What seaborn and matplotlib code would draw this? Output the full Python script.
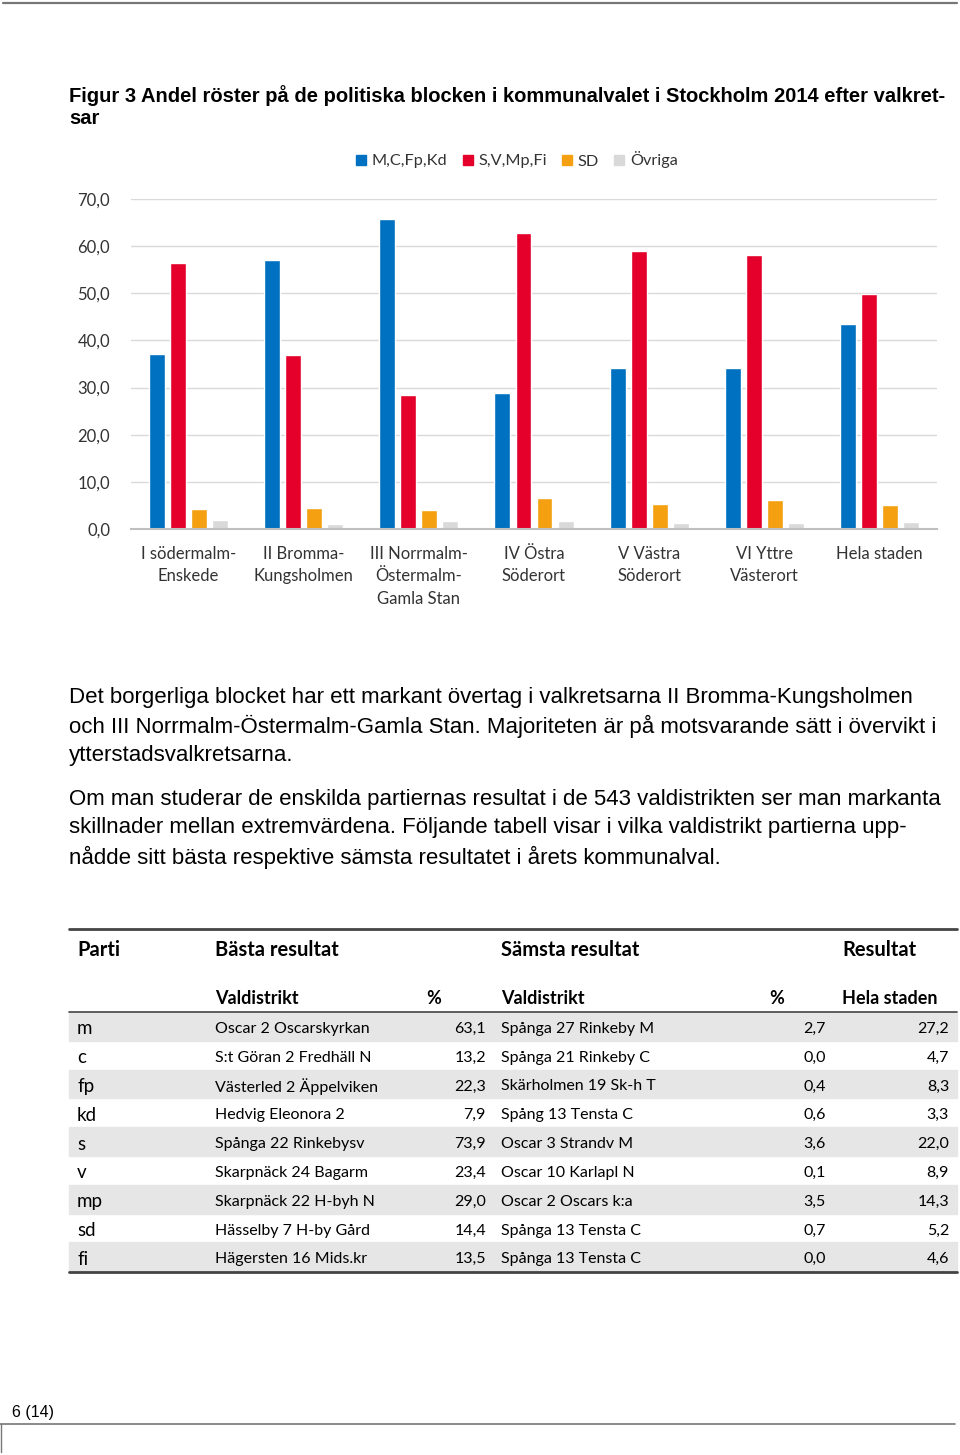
import matplotlib
matplotlib.use('Agg')
from matplotlib import pyplot as plt
from matplotlib.patches import Rectangle
from matplotlib.lines import Line2D
import pandas as pd
import seaborn as sns

# Chart data
regions = ['I södermalm-\nEnskede', 'II Bromma-\nKungsholmen', 'III Norrmalm-\nÖstermalm-\nGamla Stan',
           'IV Östra\nSöderort', 'V Västra\nSöderort', 'VI Yttre\nVästerort', 'Hela staden']
blocks = ['M,C,Fp,Kd', 'S,V,Mp,Fi', 'SD', 'Övriga']
alliance = [37.2, 57.1, 65.7, 28.9, 34.2, 34.2, 43.4]
redgreen = [56.4, 37.0, 28.4, 62.7, 58.9, 58.2, 49.8]
sd = [4.2, 4.4, 4.0, 6.5, 5.4, 6.1, 5.0]
others = [2.0, 1.1, 1.6, 1.8, 1.3, 1.3, 1.5]
block_colors = ['#0070C0', '#E4002B', '#F4A011', '#D9D9D9']
yticks = [0, 10, 20, 30, 40, 50, 60, 70]

# Table data
parties = ['m', 'c', 'fp', 'kd', 's', 'v', 'mp', 'sd', 'fi']
best_district = ['Oscar 2 Oscarskyrkan', 'S:t Göran 2 Fredhäll N', 'Västerled 2 Äppelviken', 'Hedvig Eleonora 2',
                 'Spånga 22 Rinkebysv', 'Skarpnäck 24 Bagarm', 'Skarpnäck 22 H-byh N', 'Hässelby 7 H-by Gård',
                 'Hägersten 16 Mids.kr']
best_pct = ['63,1', '13,2', '22,3', '7,9', '73,9', '23,4', '29,0', '14,4', '13,5']
worst_district = ['Spånga 27 Rinkeby M', 'Spånga 21 Rinkeby C', 'Skärholmen 19 Sk-h T', 'Spång 13 Tensta C',
                  'Oscar 3 Strandv M', 'Oscar 10 Karlapl N', 'Oscar 2 Oscars k:a', 'Spånga 13 Tensta C',
                  'Spånga 13 Tensta C']
worst_pct = ['2,7', '0,0', '0,4', '0,6', '3,6', '0,1', '3,5', '0,7', '0,0']
city_pct = ['27,2', '4,7', '8,3', '3,3', '22,0', '8,9', '14,3', '5,2', '4,6']

W, H = 960, 1455
sns.set_theme(style='white')
CHART_FONT = ['Lato', 'DejaVu Sans']
BODY_FONT = ['Liberation Sans', 'DejaVu Sans']
plt.rcParams['font.family'] = CHART_FONT

fig = plt.figure(figsize=(W / 100, H / 100), dpi=100)


def fx(x):
    return x / W


def fy(y):
    return 1 - y / H


def txt(x, y, s, size, font=CHART_FONT, weight='normal', ha='left', color='black'):
    fig.text(fx(x), fy(y), s, fontsize=size, family=font, weight=weight, ha=ha, va='center', color=color)


def hline(x0, x1, y, color='#555555', lw=1.0):
    fig.add_artist(Line2D([fx(x0), fx(x1)], [fy(y), fy(y)], color=color, lw=lw, transform=fig.transFigure))


# page border lines
hline(3, 957, 3, color='#777777', lw=1.6)
hline(0, 955, 1424, color='#777777', lw=1.2)
fig.add_artist(Line2D([fx(1), fx(1)], [fy(1424), fy(1452)], color='#777777', lw=1.0, transform=fig.transFigure))
txt(12, 1413, '6 (14)', 11.5, font=BODY_FONT)

# title
txt(69, 96, 'Figur 3 Andel röster på de politiska blocken i kommunalvalet i Stockholm 2014 efter valkret-',
    14.5, font=BODY_FONT, weight='bold')
txt(69, 119, 'sar', 14.5, font=BODY_FONT, weight='bold')

# chart
df = pd.DataFrame({
    'region': regions * 4,
    'block': [b for b in blocks for _ in regions],
    'value': alliance + redgreen + sd + others,
})
ax = fig.add_axes([fx(131), fy(529), fx(937) - fx(131), (529 - 199) / H])
sns.barplot(data=df, x='region', y='value', hue='block', hue_order=blocks, palette=block_colors,
            saturation=1, width=0.73, gap=0.24, ax=ax, legend=False)
ax.set_ylim(0, 70)
ax.set_yticks(yticks)
ax.set_yticklabels([f'{v:.1f}'.replace('.', ',') for v in yticks], fontsize=12, color='#333333')
ax.set_xticks(range(len(regions)))
ax.set_xticklabels(regions, fontsize=12, color='#333333', linespacing=1.5, va='top')
ax.tick_params(axis='x', pad=12, length=0)
ax.tick_params(axis='y', pad=15, length=0)
ax.set_xlabel('')
ax.set_ylabel('')
ax.grid(axis='y', color='#D9D9D9', lw=1.0)
ax.set_axisbelow(True)
sns.despine(ax=ax, left=True, top=True, right=True)
ax.spines['bottom'].set_color('#BFBFBF')
ax.spines['bottom'].set_linewidth(1.5)

handles = [Rectangle((0, 0), 1, 1, color=c) for c in block_colors]
fig.legend(handles, blocks, loc='center', bbox_to_anchor=(fx(517), fy(160)), ncol=4, frameon=False,
           fontsize=11.7, handlelength=0.6, handleheight=0.6, handletextpad=0.35, columnspacing=0.95,
           labelcolor='#333333')

# body text
body1 = ['Det borgerliga blocket har ett markant övertag i valkretsarna II Bromma-Kungsholmen',
         'och III Norrmalm-Östermalm-Gamla Stan. Majoriteten är på motsvarande sätt i övervikt i',
         'ytterstadsvalkretsarna.']
body2 = ['Om man studerar de enskilda partiernas resultat i de 543 valdistrikten ser man markanta',
         'skillnader mellan extremvärdena. Följande tabell visar i vilka valdistrikt partierna upp-',
         'nådde sitt bästa respektive sämsta resultatet i årets kommunalval.']
for i, line in enumerate(body1):
    txt(69, 697 + 29 * i, line, 16, font=BODY_FONT)
for i, line in enumerate(body2):
    txt(69, 799 + 29 * i, line, 16, font=BODY_FONT)

# table
hline(69, 957, 929, color='#444444', lw=2.0)
txt(77, 950, 'Parti', 14.5, weight='bold')
txt(215, 950, 'Bästa resultat', 14.5, weight='bold')
txt(501, 950, 'Sämsta resultat', 14.5, weight='bold')
txt(842, 950, 'Resultat', 14.5, weight='bold')
txt(215, 998, 'Valdistrikt', 13, weight='bold')
txt(434, 998, '%', 13, weight='bold', ha='center')
txt(501, 998, 'Valdistrikt', 13, weight='bold')
txt(777, 998, '%', 13, weight='bold', ha='center')
txt(842, 998, 'Hela staden', 13, weight='bold')

row_h = 28.8
row0 = 1012
for i, p in enumerate(parties):
    top = row0 + row_h * i
    yc = top + row_h / 2 + 2.5
    if i % 2 == 0:
        fig.add_artist(Rectangle((fx(69), fy(top + row_h)), fx(957) - fx(69), row_h / H,
                                 color='#E6E6E6', transform=fig.transFigure, zorder=0))
    txt(77, yc, p, 13.5)
    txt(215, yc, best_district[i], 11.5)
    txt(486, yc, best_pct[i], 11.5, ha='right')
    txt(501, yc, worst_district[i], 11.5)
    txt(826, yc, worst_pct[i], 11.5, ha='right')
    txt(949, yc, city_pct[i], 11.5, ha='right')
hline(69, 957, row0, color='#444444', lw=1.2)
hline(69, 957, row0 + row_h * len(parties) + 0.5, color='#444444', lw=2.0)

fig.savefig('out.png', dpi=100)
